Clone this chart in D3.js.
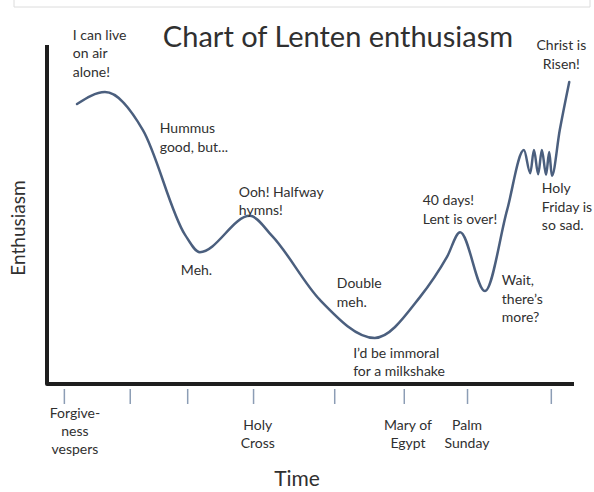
<!DOCTYPE html>
<html>
<head>
<meta charset="utf-8">
<script src="https://cdn.jsdelivr.net/npm/d3@7"></script>
<style>
  html, body { margin: 0; padding: 0; background: #fff; }
  svg { display: block; }
</style>
</head>
<body>
<div id="chart"></div>
<script>
// Chart of Lenten enthusiasm (time 0-100, enthusiasm 0-100)
const curveTime = [5.7, 11.0, 18.2, 26.2, 29.0, 38.5, 42.7, 51.8, 62.2, 70.8, 75.9, 78.4, 83.1, 87.3, 90.5, 91.7, 92.4, 93.2, 93.9, 94.7, 95.3, 95.8, 97.3, 99.1];
const curveEnthusiasm = [82.6, 86.1, 74.9, 44.0, 38.9, 49.6, 43.7, 24.8, 13.6, 25.7, 37.5, 44.8, 27.4, 51.3, 69.0, 62.2, 69.0, 61.9, 69.0, 61.7, 68.4, 61.4, 74.9, 89.1];

const tickValues = [3.2, 15.7, 26.6, 39.1, 54.5, 67.7, 79.7, 95.6];
const tickLabelTime = [5.3, 40.0, 68.5, 79.7];
const tickLabels = [["Forgive-", "ness", "vespers"], ["Holy", "Cross"], ["Mary of", "Egypt"], ["Palm", "Sunday"]];

const noteTime = [4.9, 97.6, 21.4, 36.4, 25.4, 55.0, 58.1, 71.3, 86.3, 93.9];
const noteEnthusiasm = [101.5, 98.5, 74.0, 55.2, 32.1, 28.3, 7.7, 52.8, 29.2, 56.3];
const noteLines = [
    ["I can live", "on air", "alone!"],
    ["Christ is", "Risen!"],
    ["Hummus", "good, but..."],
    ["Ooh! Halfway", "hymns!"],
    ["Meh."],
    ["Double", "meh."],
    ["I\u2019d be immoral", "for a milkshake"],
    ["40 days!", "Lent is over!"],
    ["Wait,", "there\u2019s", "more?"],
    ["Holy", "Friday is", "so sad."]
];

const width = 594, height = 492;
const font = "Lato, 'Open Sans', sans-serif";
const textColor = "#303030";
const lineColor = "#4b5f7e";

const svg = d3.select("#chart")
    .append("svg")
    .attr("width", width)
    .attr("height", height);

// faint frame edge at the top
svg.append("path")
    .attr("d", "M14,0 V7 H590 V0")
    .attr("fill", "none")
    .attr("stroke", "#dcdcdc")
    .attr("stroke-width", 1);

const xScale = d3.scaleLinear().domain([0, 100]).range([47, 574]);
const yScale = d3.scaleLinear().domain([0, 100]).range([384, 45]);

// title
svg.append("text")
    .attr("x", 338)
    .attr("y", 47)
    .attr("text-anchor", "middle")
    .attr("font-family", font)
    .attr("font-size", "29px")
    .attr("fill", textColor)
    .text("Chart of Lenten enthusiasm");

// axes
const xAxis = d3.axisBottom(xScale)
    .tickValues(tickValues)
    .tickSize(15)
    .tickFormat("");

const xAxisGroup = svg.append("g")
    .attr("transform", `translate(0,${yScale(0) + 5})`)
    .call(xAxis);
xAxisGroup.select(".domain").remove();
xAxisGroup.selectAll("line")
    .attr("stroke", "#8c9db5")
    .attr("stroke-width", 1.5);

svg.append("path")
    .attr("d", `M${xScale(0)},${yScale(100)} V${yScale(0)} H${xScale(100)}`)
    .attr("fill", "none")
    .attr("stroke", "#1e1e1e")
    .attr("stroke-width", 4)
    .attr("stroke-linejoin", "round");

// tick labels
tickLabels.forEach((lines, i) => {
    const t = svg.append("text")
        .attr("text-anchor", "middle")
        .attr("font-family", font)
        .attr("font-size", "14px")
        .attr("fill", textColor);
    const y0 = lines.length === 3 ? 418 : 430;
    lines.forEach((l, j) => {
        t.append("tspan")
            .attr("x", xScale(tickLabelTime[i]))
            .attr("y", y0 + j * 18)
            .text(l);
    });
});

// axis titles
svg.append("text")
    .attr("x", 297)
    .attr("y", 486)
    .attr("text-anchor", "middle")
    .attr("font-family", font)
    .attr("font-size", "21px")
    .attr("fill", textColor)
    .text("Time");

svg.append("text")
    .attr("transform", "translate(25,228) rotate(-90)")
    .attr("text-anchor", "middle")
    .attr("font-family", font)
    .attr("font-size", "19px")
    .attr("fill", textColor)
    .text("Enthusiasm");

// the curve
const points = curveTime.map((t, i) => [t, curveEnthusiasm[i]]);
const line = d3.line()
    .x(d => xScale(d[0]))
    .y(d => yScale(d[1]))
    .curve(d3.curveMonotoneX);

svg.append("path")
    .datum(points)
    .attr("d", line)
    .attr("fill", "none")
    .attr("stroke", lineColor)
    .attr("stroke-width", 2.5)
    .attr("stroke-linejoin", "round")
    .attr("stroke-linecap", "round");

// annotations
noteLines.forEach((lines, i) => {
    const t = svg.append("text")
        .attr("text-anchor", i === 1 ? "middle" : "start")
        .attr("font-family", font)
        .attr("font-size", "14px")
        .attr("fill", textColor);
    lines.forEach((l, j) => {
        t.append("tspan")
            .attr("x", xScale(noteTime[i]))
            .attr("y", yScale(noteEnthusiasm[i]) + j * 18.5)
            .text(l);
    });
});
</script>
</body>
</html>
